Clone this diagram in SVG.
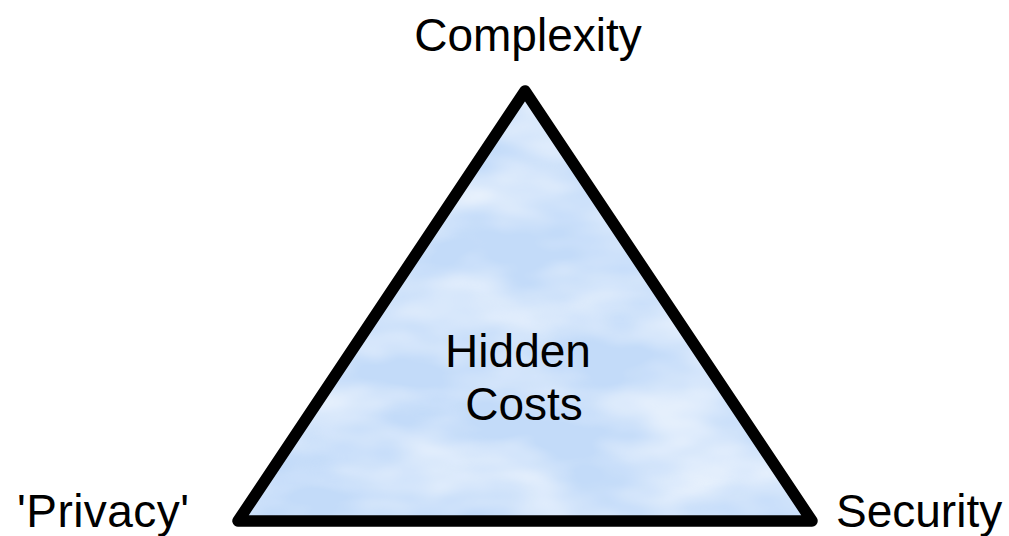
<svg xmlns="http://www.w3.org/2000/svg" width="1009" height="536" viewBox="0 0 1009 536">
  <style>
    .lbl { font-family: "Liberation Sans", Arial, sans-serif; font-size: 46px; fill: #000; }
    .tri { fill: none; stroke: #000; stroke-width: 11.5; stroke-linejoin: round; }
  </style>
  <defs>
    <clipPath id="triClip">
      <polygon points="525,91 238,521 812,521"/>
    </clipPath>
    <filter id="clouds" x="0" y="0" width="100%" height="100%" filterUnits="userSpaceOnUse">
      <feTurbulence type="fractalNoise" baseFrequency="0.008 0.018" numOctaves="3" seed="7"/>
      <feColorMatrix type="matrix" values="0 0 0 0 1  0 0 0 0 1  0 0 0 0 1  1.3 0 0 0 -0.45"/>
    </filter>
  </defs>
  <rect width="1009" height="536" fill="#ffffff"/>
  <g id="triangle">
    <g clip-path="url(#triClip)">
      <rect x="230" y="85" width="590" height="440" fill="#c3dbf9"/>
      <rect x="230" y="85" width="590" height="440" fill="#fff" filter="url(#clouds)"/>
    </g>
    <polygon class="tri" points="525,91 238,521 812,521"/>
  </g>
  <g id="center-label">
    <text class="lbl" x="518" y="367" text-anchor="middle">Hidden</text>
    <text class="lbl" x="524" y="420" text-anchor="middle">Costs</text>
  </g>
  <g id="complexity">
    <text class="lbl" x="528" y="51" text-anchor="middle">Complexity</text>
  </g>
  <g id="privacy">
    <text class="lbl" x="17" y="527" textLength="172">'Privacy'</text>
  </g>
  <g id="security">
    <text class="lbl" x="836" y="527">Security</text>
  </g>
  <g id="connectors"/>
</svg>
